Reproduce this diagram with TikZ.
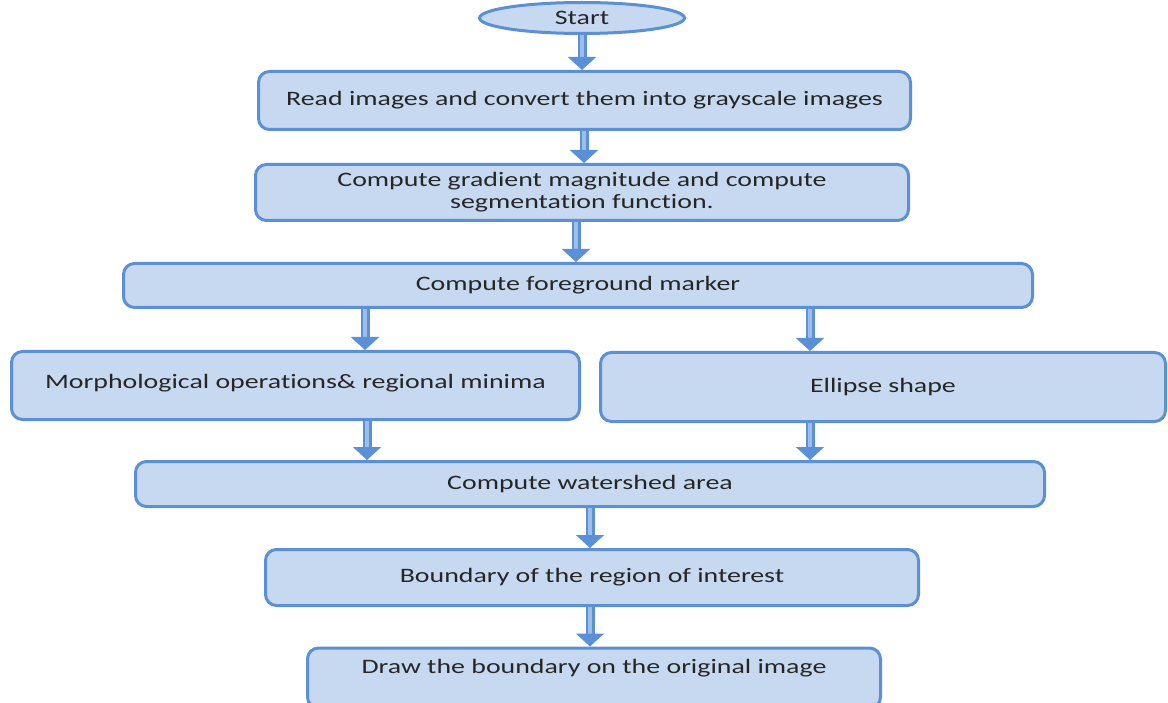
\documentclass[tikz,border=0pt]{standalone}
\usepackage{fontspec}
\setmainfont{Carlito}[FakeStretch=1.36, Ligatures={NoCommon}]
\usepackage{xcolor}
\usepackage{tikz}
\usetikzlibrary{arrows.meta,positioning,shapes.geometric,calc}

\definecolor{boxfill}{HTML}{C6D9F1}
\definecolor{boxline}{HTML}{5B8FD6}
\definecolor{shaftin}{HTML}{9DBEE8}

\begin{document}
\begin{tikzpicture}[
    x=1pt, y=-1pt,
    box/.style={rectangle, rounded corners=11pt, draw=boxline, line width=3pt, fill=boxfill, align=center, inner sep=0pt, text=black!85, font=\fontsize{20.5}{22}\selectfont},
    startbox/.style={ellipse, draw=boxline, line width=3pt, fill=boxfill, inner sep=0pt, text=black!85, font=\fontsize{20.5}{22}\selectfont},
    arr/.style={draw=boxline, line width=2.5pt, double=shaftin, double distance=4pt, -{Triangle[width=28pt, length=13pt]}}
  ]
    \path[use as bounding box, clip] (0,0) rectangle (1168,703);
    \node[startbox, minimum width=205pt, minimum height=31pt] (start) at (582,18) {Start};
    \node[box, minimum width=652pt, minimum height=58pt] (s1) at (584.5,100.5) {Read images and convert them into grayscale images};
    \node[box, minimum width=653pt, minimum height=56pt] (s2) at (582,192.5) {Compute gradient magnitude and compute\\segmentation function.};
    \node[box, minimum width=909pt, minimum height=44pt] (s3) at (578,285.5) {Compute foreground marker};
    \node[box, minimum width=568pt, minimum height=68pt, text depth=9pt] (s4) at (295.5,385.5) {Morphological operations\& regional minima};
    \node[box, minimum width=565pt, minimum height=69pt] (s5) at (883,387) {Ellipse shape};
    \node[box, minimum width=909pt, minimum height=45pt] (s6) at (590,484) {Compute watershed area};
    \node[box, minimum width=653pt, minimum height=56pt] (s7) at (592,577.5) {Boundary of the region of interest};
    \node[box, minimum width=573pt, minimum height=60pt, text depth=24pt] (s8) at (594,678) {Draw the boundary on the original image};
    % arrow columns
    \coordinate (c0) at (582,0);
    \coordinate (c1) at (584,0);
    \coordinate (c2) at (576,0);
    \coordinate (c3) at (365,0);
    \coordinate (c4) at (810,0);
    \coordinate (c5) at (367,0);
    \coordinate (c6) at (590,0);
    \foreach \i/\j/\c in {start/s1/c0,s1/s2/c1,s2/s3/c2,s3/s4/c3,s3/s5/c4,s4/s6/c5,s5/s6/c4,s6/s7/c6,s7/s8/c6}
      \draw[arr] (\i.south -| \c) -- (\j.north -| \c);
\end{tikzpicture}
\end{document}
